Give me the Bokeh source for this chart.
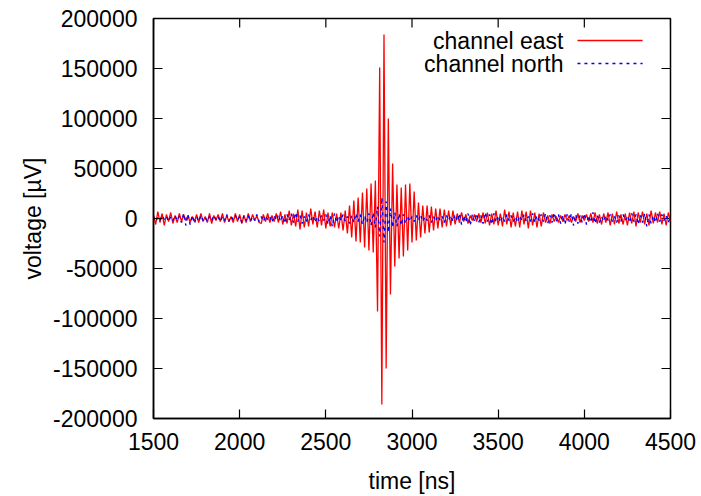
import numpy as np
from bokeh.plotting import figure
from bokeh.models import Range1d, FixedTicker, Label, Arrow
from bokeh.embed import file_html
from bokeh.resources import INLINE

# ---- data ----
t_start_ns = 1500.0
t_step_ns = 12.5

# channel east, in units of 1000 µV (one value every 12.5 ns from 1500 ns)
east_k = [
    3, -6, 7, -4, 5, -7, 4, -3, 6, -5,
    3, -4, 5, -3, 4, -2, 3, -4, 2, -3,
    4, -4, 5, -3, 2, -4, 5, -5, 3, -2,
    4, -3, 5, -4, 3, -3, 2, -4, 5, -3,
    4, -5, 3, -4, 5, -3, 4, -2, 3, -4,
    -5, 4, -3, 5, -4, 3, -3, 5, -4, 7,
    -6, 4, -5, 8, -7, 5, -8, 9, -11, 8,
    -9, 6, -8, 10, -6, 7, -9, 8, -7, 9,
    -10, 6, -8, 6, -9, 5, -10, 6, -12, 8,
    -15, 13, -19, 18, -23, 21, -24, 26, -29, 30,
    -32, 35, -34, 38, -93, 151, -186, 184, -150, 100,
    -76, 55, -48, 34, -40, 31, -38, 34, -32, 35,
    -24, 27, -22, 16, -19, 13, -15, 13, -14, 12,
    -12, 10, -10, 10, -9, 9, -8, 8, -7, 8,
    -6, 5, -4, 6, -3, 4, -5, 3, -2, 4,
    -3, 5, -4, 6, -5, 6, -7, 5, -6, 8,
    -7, 5, -8, 9, -6, 7, -9, 6, -8, 7,
    -9, 8, -6, 7, -10, 8, -7, 6, -9, 5,
    -8, 6, -4, 3, -5, 4, -3, 2, -4, 3,
    -3, 4, -2, 3, -4, 2, -3, 5, -4, 3,
    -2, 4, -3, 5, -4, 6, -5, 4, -6, 5,
    -4, 6, -7, 5, -6, 7, -5, 4, -6, 5,
    -7, 6, -5, 7, -8, 6, -4, 7, -6, 5,
    -7, 8, -5, 6, -4, 7, -6, 5, -7, 6,
    -3,
]

# channel north, in units of 1000 µV
north_k = [
    2, -3, 1, -2, 3, -1, 2, -3, 2, -2,
    3, -2, 2, -4, 5, -7, 4, -6, 3, -5,
    2, -3, 3, -2, 1, -3, 2, -2, 3, -1,
    2, -3, 2, -2, 4, -3, 2, -1, 3, -2,
    2, -4, 3, -2, 3, -3, 2, -2, 4, -3,
    2, -3, 3, -1, 2, -4, 3, -2, 4, -3,
    3, -5, 4, -2, 5, -4, 6, -3, 3, -5,
    2, -3, 4, -2, 3, -4, 2, -3, 3, -2,
    4, -6, 3, -8, 5, -4, 3, -2, 4, -3,
    2, -5, 3, -4, 5, -3, 4, -6, 3, -4,
    5, -7, 6, -9, 12, -18, 21, -24, 17, -14,
    10, -9, 6, -8, 5, -7, 4, -5, 3, -3,
    2, -3, 3, -2, 4, -3, 2, -2, 3, -4,
    2, -3, 3, -2, 2, -4, 3, -2, 3, -3,
    4, -3, 5, -6, 3, -4, 5, -7, 4, -3,
    5, -4, 3, -5, 6, -3, 4, -6, 5, -4,
    3, -4, 2, -3, 4, -2, 3, -3, 2, -4,
    3, -2, 4, -3, 2, -3, 5, -4, 3, -2,
    4, -3, 5, -5, 3, -4, 6, -3, 4, -5,
    3, -6, 4, -3, 5, -7, 4, -5, 3, -4,
    5, -6, 3, -4, 6, -5, 3, -4, 2, -3,
    3, -2, 4, -3, 2, -4, 3, -3, 4, -2,
    3, -4, 5, -3, 4, -6, 3, -4, 5, -8,
    4, -5, 3, -4, 5, -3, 4, -2, 3, -4,
    2,
]

x_ticks = [1500, 2000, 2500, 3000, 3500, 4000, 4500]
y_ticks = [-200000, -150000, -100000, -50000, 0, 50000, 100000, 150000, 200000]
x_tick_labels = ["1500", "2000", "2500", "3000", "3500", "4000", "4500"]
y_tick_labels = ["-200000", "-150000", "-100000", "-50000", "0",
                 "50000", "100000", "150000", "200000"]
series_names = ["channel east", "channel north"]

time_ns = t_start_ns + t_step_ns * np.arange(len(east_k))
east_uv = np.array(east_k, dtype=float) * 1000.0
north_uv = np.array(north_k, dtype=float) * 1000.0

FONT = "Liberation Sans"
FS = "23px"

W, H = 701, 496
BL, BR, BT, BB = 153, 31, 18, 78
frame_w = W - BL - BR
frame_h = H - BT - BB
TICK_PX = 9

x0, x1 = x_ticks[0], x_ticks[-1]
y0, y1 = y_ticks[0], y_ticks[-1]

p = figure(width=W, height=H, output_backend="svg", toolbar_location=None,
           x_range=Range1d(x0, x1), y_range=Range1d(y0, y1),
           min_border_left=BL, min_border_right=BR,
           min_border_top=BT, min_border_bottom=BB,
           x_axis_label="time [ns]", y_axis_label="voltage [µV]")
p.background_fill_color = "white"
p.border_fill_color = "white"
p.outline_line_color = "black"
p.outline_line_width = 1.5
p.xgrid.visible = False
p.ygrid.visible = False

p.xaxis.ticker = FixedTicker(ticks=x_ticks)
p.yaxis.ticker = FixedTicker(ticks=y_ticks)
p.xaxis.major_label_overrides = {t: s for t, s in zip(x_ticks, x_tick_labels)}
p.yaxis.major_label_overrides = {t: s for t, s in zip(y_ticks, y_tick_labels)}

for ax in list(p.xaxis) + list(p.yaxis):
    ax.major_tick_in = TICK_PX
    ax.major_tick_out = 0
    ax.minor_tick_line_color = None
    ax.major_tick_line_color = "black"
    ax.major_tick_line_width = 1.2
    ax.axis_line_color = "black"
    ax.axis_line_width = 1.5
    ax.major_label_text_font = FONT
    ax.major_label_text_font_size = FS
    ax.major_label_text_color = "black"
    ax.axis_label_text_font = FONT
    ax.axis_label_text_font_size = FS
    ax.axis_label_text_font_style = "normal"
    ax.axis_label_text_color = "black"

p.xaxis.major_label_standoff = 14
p.xaxis.axis_label_standoff = 15
p.yaxis.major_label_standoff = 16
p.yaxis.axis_label_standoff = 4

# mirrored inward ticks on the top and right frame edges (gnuplot style)
ux = (x1 - x0) / frame_w
uy = (y1 - y0) / frame_h
p.segment(x0=x_ticks, y0=[y1] * len(x_ticks), x1=x_ticks, y1=[y1 - TICK_PX * uy] * len(x_ticks),
          line_color="black", line_width=1.2)
p.segment(x0=[x1] * len(y_ticks), y0=y_ticks, x1=[x1 - TICK_PX * ux] * len(y_ticks), y1=y_ticks,
          line_color="black", line_width=1.2)

p.line(time_ns, east_uv, line_color="#ff0000", line_width=1.3)
p.line(time_ns, north_uv, line_color="#0000ff", line_width=1.4, line_dash="3 4")

# gnuplot-style key: text on the left, line sample on the right
key_text_x = 3879
key_line_x0, key_line_x1 = 3960, 4338
key_rows_y = [178000, 155000]
key_colors = ["#ff0000", "#0000ff"]
key_dash = ["solid", "3 4"]
for name, ky, col, dash in zip(series_names, key_rows_y, key_colors, key_dash):
    p.add_layout(Label(x=key_text_x, y=ky, text=name, text_align="right",
                       text_baseline="middle", text_font=FONT, text_font_size=FS,
                       text_color="black"))
    p.add_layout(Arrow(end=None, x_start=key_line_x0, y_start=ky, x_end=key_line_x1, y_end=ky,
                       line_color=col, line_width=1.4, line_dash=dash))

open("out.html", "w").write(file_html(p, INLINE))
